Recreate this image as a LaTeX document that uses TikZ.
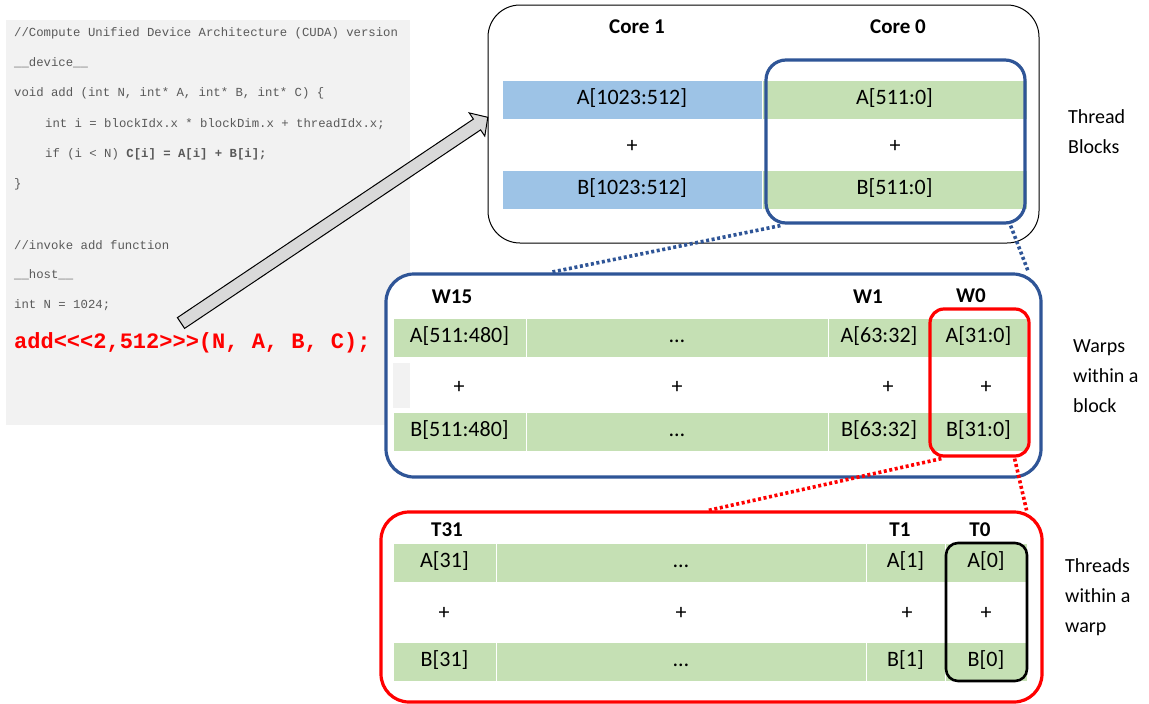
\documentclass[tikz,border=0pt]{standalone}
\usepackage{fontspec}
\setmainfont{Carlito}
\newfontfamily\codefont{Liberation Mono}
\usetikzlibrary{calc}
\definecolor{cgreen}{HTML}{C5E0B4}
\definecolor{cblue}{HTML}{9DC3E6}
\definecolor{cnavy}{HTML}{2F5597}
\definecolor{cpanel}{HTML}{F2F2F2}
\definecolor{ccode}{HTML}{595959}
\definecolor{carrow}{HTML}{D9D9D9}
\definecolor{cred}{HTML}{FF0000}
\begin{document}
\begin{tikzpicture}[x=1pt,y=-1pt,
  cell/.style={fill=cgreen, draw=white, line width=1pt, minimum height=39pt, inner sep=0pt, text height=15pt, text depth=5pt, font=\fontsize{22}{26}\selectfont, text=black},
  bcell/.style={cell, fill=cblue},
  pluslbl/.style={inner sep=0pt, font=\fontsize{22}{26}\selectfont},
  hdr/.style={inner sep=0pt, font=\fontsize{21}{25}\selectfont\bfseries},
  codeline/.style={anchor=west, inner sep=0pt, font=\codefont\fontsize{12.3}{14}\selectfont, text=ccode},
  redcode/.style={anchor=west, inner sep=0pt, font=\codefont\bfseries\fontsize{22}{26}\selectfont, text=cred},
  sidelbl/.style={anchor=west, align=left, inner sep=0pt, font=\fontsize{20}{30}\selectfont},
  frame/.style={inner sep=0pt, draw, rounded corners=#1},
  navyline/.style={draw=cnavy, line width=3.2pt},
  redline/.style={draw=cred, line width=3.2pt},
  navydots/.style={cnavy, line width=3.6pt, dash pattern=on 3pt off 2.6pt},
  reddots/.style={cred, line width=3.6pt, dash pattern=on 3pt off 2.6pt}
]
\useasboundingbox[fill=white] (0,0) rectangle (1149,704);

% code panel
\fill[cpanel] (6,20) rectangle (410,425);
\node[codeline] (c1) at (14,33) {//Compute Unified Device Architecture (CUDA) version};
\node[codeline] (c2) at (14,63) {\_\_device\_\_};
\node[codeline] (c3) at (14,93) {void add (int N, int* A, int* B, int* C) \{};
\node[codeline] (c4) at (45,124) {int i = blockIdx.x * blockDim.x + threadIdx.x;};
\node[codeline] (c5) at (45,154) {if (i < N) \textbf{C[i] = A[i] + B[i];}};
\node[codeline] (c6) at (14,184) {\}};
\node[codeline] (c7) at (14,245) {//invoke add function};
\node[codeline] (c8) at (14,275) {\_\_host\_\_};
\node[codeline] (c9) at (14,305) {int N = 1024;};
\node[redcode] (c10) at (14,343) {add<<<2,512>>>(N, A, B, C);};

% big arrow
\draw[fill=carrow, line width=1pt, line join=miter] (177.4,317.6) -- (473.4,119.1) -- (469.2,112.9) -- (487.8,117.3) -- (484.8,136.1) -- (480.6,129.9) -- (184.6,328.4) -- cycle;

% top box: thread blocks
\node[frame=32pt, line width=1pt, minimum width=551pt, minimum height=238pt] (tb) at (763.5,124) {};
\node[hdr] (core1) at (637,27) {Core 1};
\node[hdr] (core0) at (898,27) {Core 0};
\node[bcell, minimum width=260pt] (a1) at (632,99.5) {A[1023:512]};
\node[cell, minimum width=265pt] (a0) at (894.5,99.5) {A[511:0]};
\node[pluslbl] (p1) at (632,146) {+};
\node[pluslbl] (p0) at (895,146) {+};
\node[bcell, minimum width=260pt] (b1) at (632,189.5) {B[1023:512]};
\node[cell, minimum width=265pt] (b0) at (894.5,189.5) {B[511:0]};
\node[frame=20pt, navyline, minimum width=259pt, minimum height=163pt] (blk0) at (895.5,141.5) {};

% warp box
\node[frame=28pt, navyline, fill=white, minimum width=655pt, minimum height=203pt] (warp) at (713.5,375.5) {};
\fill[cpanel] (393,363) rectangle (410,408);
\node[hdr] (w15) at (452,297) {W15};
\node[hdr] (w1) at (868,297) {W1};
\node[hdr] (w0) at (971,296) {W0};
\node[cell, minimum width=133pt] (wa15) at (459.5,337.5) {A[511:480]};
\node[cell, minimum width=302pt] (wad) at (677,337.5) {…};
\node[cell, minimum width=102pt] (wa1) at (879,337.5) {A[63:32]};
\node[cell, minimum width=97pt] (wa0) at (978.5,337.5) {A[31:0]};
\node[pluslbl] (wp15) at (459,387) {+};
\node[pluslbl] (wpd) at (677,387) {+};
\node[pluslbl] (wp1) at (888,387) {+};
\node[pluslbl] (wp0) at (986,387) {+};
\node[cell, minimum width=133pt] (wb15) at (459.5,431.5) {B[511:480]};
\node[cell, minimum width=302pt] (wbd) at (677,431.5) {…};
\node[cell, minimum width=102pt] (wb1) at (879,431.5) {B[63:32]};
\node[cell, minimum width=97pt] (wb0) at (978.5,431.5) {B[31:0]};
\node[frame=14pt, redline, minimum width=99pt, minimum height=147pt] (w0box) at (979.5,382.5) {};

% thread box
\node[frame=28pt, redline, minimum width=661pt, minimum height=190pt] (thr) at (711.5,607) {};
\node[hdr] (t31) at (447,530) {T31};
\node[hdr] (t1) at (900,530) {T1};
\node[hdr] (t0) at (980,530) {T0};
\node[cell, minimum width=103pt] (ta31) at (444.5,562.5) {A[31]};
\node[cell, minimum width=370pt] (tad) at (681,562.5) {…};
\node[cell, minimum width=79pt] (ta1) at (905.5,562.5) {A[1]};
\node[cell, minimum width=82pt] (ta0) at (986,562.5) {A[0]};
\node[pluslbl] (tp31) at (444,613) {+};
\node[pluslbl] (tpd) at (681,613) {+};
\node[pluslbl] (tp1) at (907,613) {+};
\node[pluslbl] (tp0) at (986,613) {+};
\node[cell, minimum width=103pt] (tb31) at (444.5,661.5) {B[31]};
\node[cell, minimum width=370pt] (tbd) at (681,661.5) {…};
\node[cell, minimum width=79pt] (tb1) at (905.5,661.5) {B[1]};
\node[cell, minimum width=82pt] (tb0) at (986,661.5) {B[0]};
\node[frame=12pt, line width=2.6pt, minimum width=81pt, minimum height=138pt] (t0box) at (986.5,612) {};

% zoom connectors
\draw[navydots] ($(blk0.south west)+(16,1)$) -- ($(warp.north west)+(166,0)$);
\draw[navydots] ($(blk0.south east)+(-16,1)$) -- ($(warp.north east)+(-14,0)$);
\draw[reddots] ($(w0box.south west)+(13,1)$) -- ($(thr.north west)+(329,0)$);
\draw[reddots] ($(w0box.south east)+(-16,1)$) -- ($(thr.north east)+(-17,0)$);

% side labels
\node[sidelbl] (lb1) at (1068,132) {Thread\\Blocks};
\node[sidelbl] (lb2) at (1073,376) {Warps\\within a\\block};
\node[sidelbl] (lb3) at (1065,597) {Threads\\within a\\warp};
\end{tikzpicture}
\end{document}
